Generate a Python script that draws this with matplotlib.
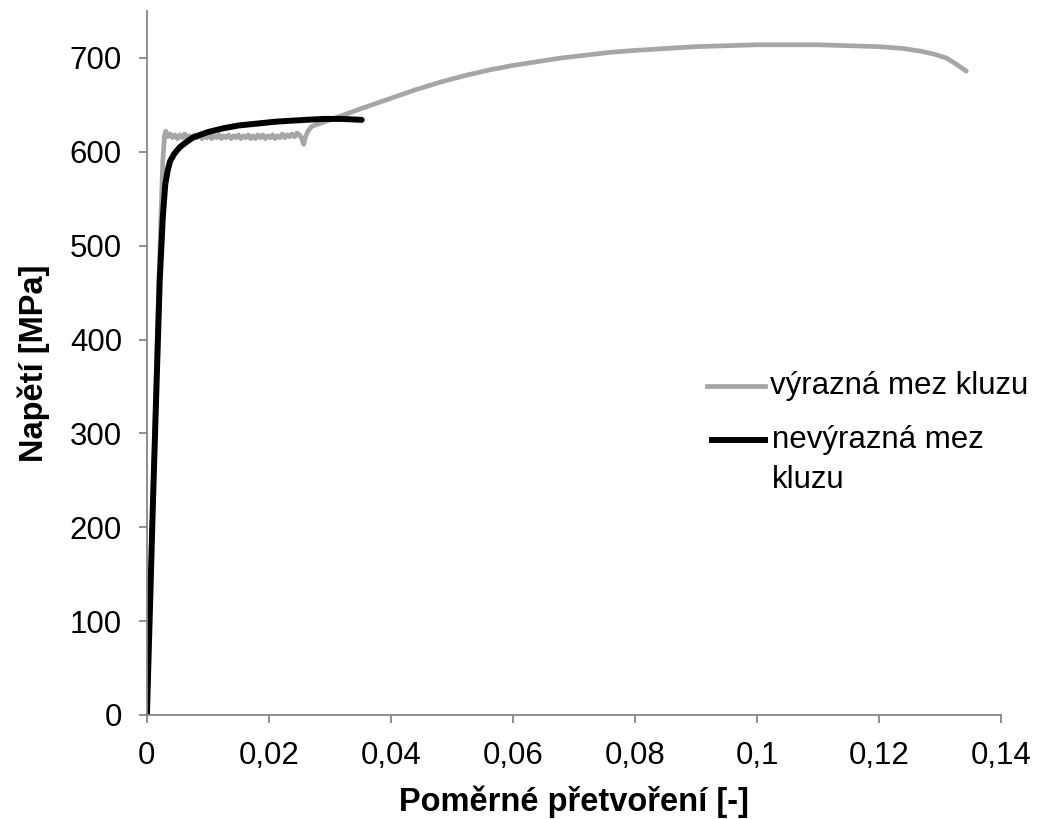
import numpy as np
import matplotlib.pyplot as plt

plt.rcParams['font.family'] = ['Liberation Sans', 'DejaVu Sans']

# výrazná mez kluzu (grey)
strain_a = [0, 0.0010, 0.0020, 0.0026, 0.0029, 0.0031, 0.0034,
            0.0038, 0.0042, 0.0046, 0.0050, 0.0054, 0.0058, 0.0062, 0.0066,
            0.0070, 0.0074, 0.0078, 0.0082, 0.0086, 0.0090, 0.0094, 0.0098,
            0.0102, 0.0106, 0.0110, 0.0114, 0.0118, 0.0122, 0.0126, 0.0130,
            0.0134, 0.0138, 0.0142, 0.0146, 0.0150, 0.0154, 0.0158, 0.0162,
            0.0166, 0.0170, 0.0174, 0.0178, 0.0182, 0.0186, 0.0190, 0.0194,
            0.0198, 0.0202, 0.0206, 0.0210, 0.0214, 0.0218, 0.0222, 0.0226,
            0.0230, 0.0234, 0.0238, 0.0242, 0.0246, 0.0250, 0.0254, 0.0257,
            0.0260, 0.0264, 0.0270, 0.0300, 0.0330, 0.0360, 0.0400, 0.0440,
            0.0480, 0.0520, 0.0560, 0.0600, 0.0640, 0.0680, 0.0720, 0.0760,
            0.0800, 0.0850, 0.0900, 0.0950, 0.1000, 0.1050, 0.1100, 0.1150,
            0.1200, 0.1240, 0.1270, 0.1290, 0.1310, 0.1325, 0.1343]
stress_a = [0, 235, 470, 590, 618, 622, 616,
            619, 615, 618, 614, 618, 615, 619, 614,
            617, 614, 618, 615, 618, 614, 617, 615,
            618, 614, 617, 615, 618, 614, 617, 615,
            618, 614, 617, 615, 618, 614, 617, 615,
            618, 614, 617, 614, 618, 615, 618, 614,
            617, 615, 618, 614, 617, 615, 619, 615,
            618, 616, 619, 616, 620, 618, 614, 608,
            616, 622, 627, 634, 641, 648, 657, 666,
            674, 681, 687, 692, 696, 700, 703, 706,
            708, 710, 712, 713, 714, 714, 714, 713,
            712, 710, 707, 704, 700, 694, 686]

# nevýrazná mez kluzu (black)
strain_b = [0, 0.0010, 0.0021, 0.0026, 0.0030, 0.0034, 0.0038, 0.0045,
            0.0054, 0.0064, 0.0075, 0.0087, 0.0100, 0.0125, 0.0150, 0.0180,
            0.0210, 0.0234, 0.0260, 0.0289, 0.0320, 0.0352]
stress_b = [0, 229, 463, 530, 565, 580, 590, 598,
            605, 610, 615, 618, 621, 625, 628, 630,
            632, 633, 634, 635, 635, 634]

xticks = [0, 0.02, 0.04, 0.06, 0.08, 0.1, 0.12, 0.14]
xticklabels = ['0', '0,02', '0,04', '0,06', '0,08', '0,1', '0,12', '0,14']
yticks = [0, 100, 200, 300, 400, 500, 600, 700]

grey = '#A6A6A6'
axis_col = '#868686'
fs = 22.5

fig = plt.figure(figsize=(10.42, 8.19), dpi=100)
ax = fig.add_axes([0.141, 0.127, 0.8197, 0.8596])

ax.plot(strain_a, stress_a, color=grey, lw=3.4, solid_capstyle='round',
        solid_joinstyle='round')
ax.plot(strain_b, stress_b, color='black', lw=4.3, solid_capstyle='round',
        solid_joinstyle='round')

ax.set_xlim(0, 0.14)
ax.set_ylim(0, 750)
ax.set_xticks(xticks)
ax.set_xticklabels(xticklabels)
ax.set_yticks(yticks)
ax.tick_params(labelsize=fs, direction='out', length=6, width=1.3,
               color=axis_col)
ax.tick_params(axis='x', pad=13)
ax.tick_params(axis='y', pad=12)
for s in ['top', 'right']:
    ax.spines[s].set_visible(False)
for s in ['left', 'bottom']:
    ax.spines[s].set_color(axis_col)
    ax.spines[s].set_linewidth(1.3)

ax.set_xlabel('Poměrné přetvoření [-]', fontsize=23.5, fontweight='bold',
              labelpad=10)
ax.set_ylabel('Napětí [MPa]', fontsize=23.5, fontweight='bold', labelpad=14)

# legend drawn by hand so the black handle sits on the first text line
tr = ax.transAxes
ax.plot([0.656, 0.724], [0.467, 0.467], color=grey, lw=3.4, transform=tr,
        clip_on=False)
ax.text(0.7295, 0.467, 'výrazná mez kluzu', fontsize=fs, va='center',
        ha='left', transform=tr)
ax.plot([0.661, 0.724], [0.3906, 0.3906], color='black', lw=4.3,
        transform=tr, clip_on=False)
ax.text(0.732, 0.3906, 'nevýrazná mez', fontsize=fs, va='center',
        ha='left', transform=tr)
ax.text(0.732, 0.334, 'kluzu', fontsize=fs, va='center', ha='left',
        transform=tr)

plt.savefig('out.png', dpi=100)
